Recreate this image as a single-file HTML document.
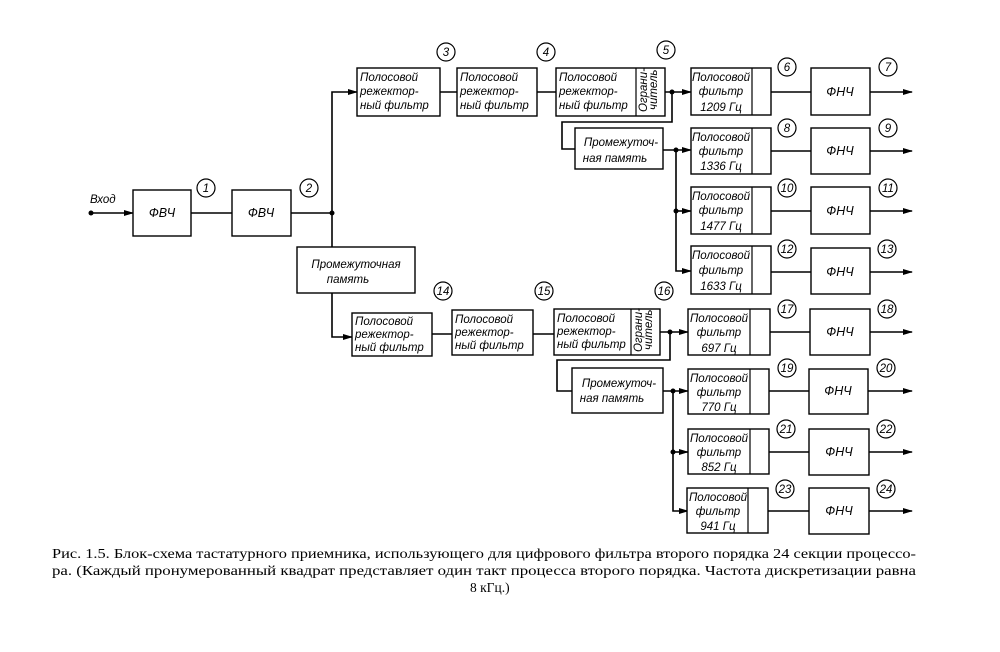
<!DOCTYPE html>
<html><head><meta charset="utf-8"><style>
html,body{margin:0;padding:0;background:#fff}
svg{display:block}
.b{fill:#fff;stroke:#000;stroke-width:1.4}
.l{stroke:#000;stroke-width:1.6;fill:none}
.c{fill:#fff;stroke:#000;stroke-width:1.2}
text{font-family:"Liberation Sans",sans-serif;font-style:italic;font-size:11.5px;fill:#000}
.n{font-size:11.5px;text-anchor:middle}
.m{text-anchor:middle}
.f{font-size:12.5px;text-anchor:middle}
.cap{font-family:"Liberation Serif","DejaVu Serif",serif;font-style:normal;font-size:13.5px}
</style></head><body>
<svg width="1000" height="652" viewBox="0 0 1000 652" xmlns="http://www.w3.org/2000/svg">
<defs><marker id="a" markerWidth="10" markerHeight="8" refX="9" refY="4" orient="auto" markerUnits="userSpaceOnUse"><path d="M0,1 L10,4 L0,7 Z" fill="#000"/></marker></defs>

<text x="90" y="203">Вход</text>
<circle cx="91" cy="213" r="2.5"/>
<line class="l" x1="91" y1="213" x2="133" y2="213" marker-end="url(#a)"/>
<rect class="b" x="133" y="190" width="58" height="46"/><text class="f" x="162" y="217">ФВЧ</text>
<line class="l" x1="191" y1="213" x2="232" y2="213"/>
<rect class="b" x="232" y="190" width="59" height="46"/><text class="f" x="261" y="217">ФВЧ</text>
<line class="l" x1="291" y1="213" x2="332" y2="213"/>
<circle cx="332" cy="213" r="2.5"/>
<path class="l" d="M332,213 V92 H357" marker-end="url(#a)"/>
<line class="l" x1="332" y1="213" x2="332" y2="247"/>
<rect class="b" x="297" y="247" width="118" height="46"/>
<text class="m" x="356" y="268">Промежуточная</text><text class="m" x="348" y="283">память</text>
<path class="l" d="M332,293 V337 H352" marker-end="url(#a)"/>

<rect class="b" x="357" y="68" width="83" height="48"/>
<text x="360" y="81">Полосовой</text><text x="360" y="95">режектор-</text><text x="360" y="109">ный фильтр</text>
<line class="l" x1="440" y1="92" x2="457" y2="92"/>
<rect class="b" x="457" y="68" width="80" height="48"/>
<text x="460" y="81">Полосовой</text><text x="460" y="95">режектор-</text><text x="460" y="109">ный фильтр</text>
<line class="l" x1="537" y1="92" x2="556" y2="92"/>
<rect class="b" x="556" y="68" width="109" height="48"/><line class="l" x1="636" y1="68" x2="636" y2="116" style="stroke-width:1.2"/>
<text x="559" y="81">Полосовой</text><text x="559" y="95">режектор-</text><text x="559" y="109">ный фильтр</text>
<text font-size="9" transform="translate(647,112) rotate(-90)">Ограни-</text><text font-size="9" transform="translate(657,110) rotate(-90)">читель</text>
<line class="l" x1="665" y1="92" x2="691" y2="92" marker-end="url(#a)"/>
<circle cx="672" cy="92" r="2.5"/>
<path class="l" d="M672,92 V122 H562 V149 H575"/>
<rect class="b" x="575" y="128" width="88" height="41"/>
<text class="m" x="621" y="146">Промежуточ-</text><text class="m" x="615" y="162">ная память</text>
<line class="l" x1="663" y1="150" x2="691" y2="150" marker-end="url(#a)"/>
<circle cx="676" cy="150" r="2.5"/><circle cx="676" cy="211" r="2.5"/>
<path class="l" d="M676,150 V271 H691" marker-end="url(#a)"/>
<line class="l" x1="676" y1="211" x2="691" y2="211" marker-end="url(#a)"/>

<rect class="b" x="352" y="313" width="80" height="43"/>
<text x="355" y="325">Полосовой</text><text x="355" y="338">режектор-</text><text x="355" y="351">ный фильтр</text>
<line class="l" x1="432" y1="334" x2="452" y2="334"/>
<rect class="b" x="452" y="310" width="81" height="45"/>
<text x="455" y="323">Полосовой</text><text x="455" y="336">режектор-</text><text x="455" y="349">ный фильтр</text>
<line class="l" x1="533" y1="334" x2="554" y2="334"/>
<rect class="b" x="554" y="309" width="106" height="46"/><line class="l" x1="631" y1="309" x2="631" y2="355" style="stroke-width:1.2"/>
<text x="557" y="322">Полосовой</text><text x="557" y="335">режектор-</text><text x="557" y="348">ный фильтр</text>
<text font-size="9" transform="translate(642,352) rotate(-90)">Ограни-</text><text font-size="9" transform="translate(652,350) rotate(-90)">читель</text>
<line class="l" x1="660" y1="332" x2="688" y2="332" marker-end="url(#a)"/>
<circle cx="670" cy="332" r="2.5"/>
<path class="l" d="M670,332 V360 H557 V391 H572"/>
<rect class="b" x="572" y="368" width="91" height="45"/>
<text class="m" x="619" y="387">Промежуточ-</text><text class="m" x="612" y="402">ная память</text>
<line class="l" x1="663" y1="391" x2="688" y2="391" marker-end="url(#a)"/>
<circle cx="673" cy="391" r="2.5"/><circle cx="673" cy="452" r="2.5"/>
<path class="l" d="M673,391 V511 H688" marker-end="url(#a)"/>
<line class="l" x1="673" y1="452" x2="688" y2="452" marker-end="url(#a)"/>

<g>
<rect class="b" x="691" y="68" width="80" height="47"/><line class="l" x1="752" y1="68" x2="752" y2="115" style="stroke-width:1.2"/>
<text class="m" x="721" y="81">Полосовой</text><text class="m" x="721" y="95">фильтр</text><text class="m" x="721" y="111">1209 Гц</text>
<rect class="b" x="691" y="128" width="80" height="46"/><line class="l" x1="752" y1="128" x2="752" y2="174" style="stroke-width:1.2"/>
<text class="m" x="721" y="141">Полосовой</text><text class="m" x="721" y="155">фильтр</text><text class="m" x="721" y="170">1336 Гц</text>
<rect class="b" x="691" y="187" width="80" height="47"/><line class="l" x1="752" y1="187" x2="752" y2="234" style="stroke-width:1.2"/>
<text class="m" x="721" y="200">Полосовой</text><text class="m" x="721" y="214">фильтр</text><text class="m" x="721" y="230">1477 Гц</text>
<rect class="b" x="691" y="246" width="80" height="48"/><line class="l" x1="752" y1="246" x2="752" y2="294" style="stroke-width:1.2"/>
<text class="m" x="721" y="259">Полосовой</text><text class="m" x="721" y="274">фильтр</text><text class="m" x="721" y="290">1633 Гц</text>

<rect class="b" x="688" y="309" width="82" height="46"/><line class="l" x1="750" y1="309" x2="750" y2="355" style="stroke-width:1.2"/>
<text class="m" x="719" y="322">Полосовой</text><text class="m" x="719" y="336">фильтр</text><text class="m" x="719" y="352">697 Гц</text>
<rect class="b" x="688" y="369" width="81" height="45"/><line class="l" x1="750" y1="369" x2="750" y2="414" style="stroke-width:1.2"/>
<text class="m" x="719" y="382">Полосовой</text><text class="m" x="719" y="396">фильтр</text><text class="m" x="719" y="411">770 Гц</text>
<rect class="b" x="688" y="429" width="81" height="45"/><line class="l" x1="750" y1="429" x2="750" y2="474" style="stroke-width:1.2"/>
<text class="m" x="719" y="442">Полосовой</text><text class="m" x="719" y="456">фильтр</text><text class="m" x="719" y="471">852 Гц</text>
<rect class="b" x="687" y="488" width="81" height="45"/><line class="l" x1="748" y1="488" x2="748" y2="533" style="stroke-width:1.2"/>
<text class="m" x="718" y="501">Полосовой</text><text class="m" x="718" y="515">фильтр</text><text class="m" x="718" y="530">941 Гц</text>
</g>

<g>
<line class="l" x1="771" y1="92" x2="811" y2="92"/><rect class="b" x="811" y="68" width="59" height="47"/><text class="f" x="840" y="96">ФНЧ</text><line class="l" x1="870" y1="92" x2="912" y2="92" marker-end="url(#a)"/>
<line class="l" x1="771" y1="151" x2="811" y2="151"/><rect class="b" x="811" y="128" width="59" height="46"/><text class="f" x="840" y="155">ФНЧ</text><line class="l" x1="870" y1="151" x2="912" y2="151" marker-end="url(#a)"/>
<line class="l" x1="771" y1="211" x2="811" y2="211"/><rect class="b" x="811" y="187" width="59" height="47"/><text class="f" x="840" y="215">ФНЧ</text><line class="l" x1="870" y1="211" x2="912" y2="211" marker-end="url(#a)"/>
<line class="l" x1="771" y1="272" x2="811" y2="272"/><rect class="b" x="811" y="248" width="59" height="46"/><text class="f" x="840" y="276">ФНЧ</text><line class="l" x1="870" y1="272" x2="912" y2="272" marker-end="url(#a)"/>
<line class="l" x1="770" y1="332" x2="810" y2="332"/><rect class="b" x="810" y="309" width="60" height="46"/><text class="f" x="840" y="336">ФНЧ</text><line class="l" x1="870" y1="332" x2="912" y2="332" marker-end="url(#a)"/>
<line class="l" x1="769" y1="391" x2="809" y2="391"/><rect class="b" x="809" y="369" width="59" height="45"/><text class="f" x="838" y="395">ФНЧ</text><line class="l" x1="868" y1="391" x2="912" y2="391" marker-end="url(#a)"/>
<line class="l" x1="769" y1="452" x2="809" y2="452"/><rect class="b" x="809" y="429" width="60" height="46"/><text class="f" x="839" y="456">ФНЧ</text><line class="l" x1="869" y1="452" x2="912" y2="452" marker-end="url(#a)"/>
<line class="l" x1="768" y1="511" x2="809" y2="511"/><rect class="b" x="809" y="488" width="60" height="46"/><text class="f" x="839" y="515">ФНЧ</text><line class="l" x1="869" y1="511" x2="912" y2="511" marker-end="url(#a)"/>
</g>

<g>
<circle class="c" cx="206" cy="188" r="9"/><text class="n" x="206" y="192">1</text>
<circle class="c" cx="309" cy="188" r="9"/><text class="n" x="309" y="192">2</text>
<circle class="c" cx="446" cy="52" r="9"/><text class="n" x="446" y="56">3</text>
<circle class="c" cx="546" cy="52" r="9"/><text class="n" x="546" y="56">4</text>
<circle class="c" cx="666" cy="50" r="9"/><text class="n" x="666" y="54">5</text>
<circle class="c" cx="787" cy="67" r="9"/><text class="n" x="787" y="71">6</text>
<circle class="c" cx="888" cy="67" r="9"/><text class="n" x="888" y="71">7</text>
<circle class="c" cx="787" cy="128" r="9"/><text class="n" x="787" y="132">8</text>
<circle class="c" cx="888" cy="128" r="9"/><text class="n" x="888" y="132">9</text>
<circle class="c" cx="787" cy="188" r="9"/><text class="n" x="787" y="192">10</text>
<circle class="c" cx="888" cy="188" r="9"/><text class="n" x="888" y="192">11</text>
<circle class="c" cx="787" cy="249" r="9"/><text class="n" x="787" y="253">12</text>
<circle class="c" cx="887" cy="249" r="9"/><text class="n" x="887" y="253">13</text>
<circle class="c" cx="443" cy="291" r="9"/><text class="n" x="443" y="295">14</text>
<circle class="c" cx="544" cy="291" r="9"/><text class="n" x="544" y="295">15</text>
<circle class="c" cx="664" cy="291" r="9"/><text class="n" x="664" y="295">16</text>
<circle class="c" cx="787" cy="309" r="9"/><text class="n" x="787" y="313">17</text>
<circle class="c" cx="887" cy="309" r="9"/><text class="n" x="887" y="313">18</text>
<circle class="c" cx="787" cy="368" r="9"/><text class="n" x="787" y="372">19</text>
<circle class="c" cx="886" cy="368" r="9"/><text class="n" x="886" y="372">20</text>
<circle class="c" cx="786" cy="429" r="9"/><text class="n" x="786" y="433">21</text>
<circle class="c" cx="886" cy="429" r="9"/><text class="n" x="886" y="433">22</text>
<circle class="c" cx="785" cy="489" r="9"/><text class="n" x="785" y="493">23</text>
<circle class="c" cx="886" cy="489" r="9"/><text class="n" x="886" y="493">24</text>
</g>

<text class="cap" x="52" y="558" textLength="864" lengthAdjust="spacingAndGlyphs">Рис. 1.5. Блок-схема тастатурного приемника, использующего для цифрового фильтра второго порядка 24 секции процессо-</text>
<text class="cap" x="52" y="575" textLength="864" lengthAdjust="spacingAndGlyphs">ра. (Каждый пронумерованный квадрат представляет один такт процесса второго порядка. Частота дискретизации равна</text>
<text class="cap" x="470" y="592">8 кГц.)</text>
</svg>
</body></html>
